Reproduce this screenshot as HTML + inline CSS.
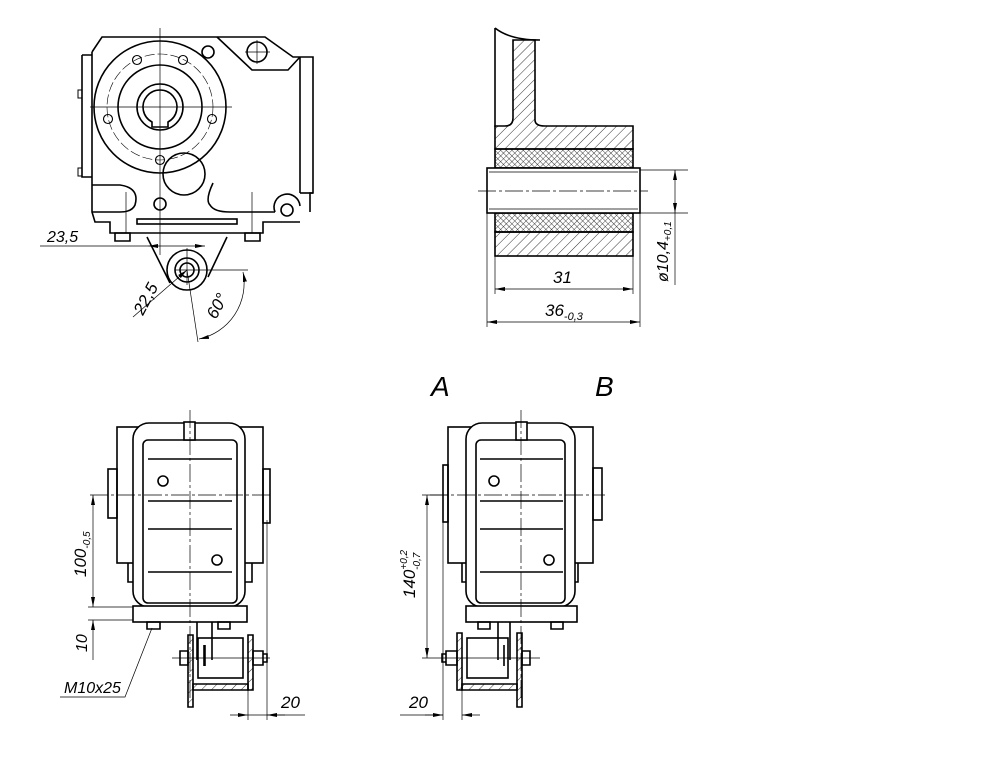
<!DOCTYPE html>
<html><head><meta charset="utf-8"><style>
html,body{margin:0;padding:0;background:#fff;}
svg{display:block}
text{font-family:"Liberation Sans",sans-serif;font-style:italic;fill:#000}
</style></head><body>
<svg width="990" height="784" viewBox="0 0 990 784" xmlns="http://www.w3.org/2000/svg">
<defs>
<pattern id="h" patternUnits="userSpaceOnUse" width="7" height="7" patternTransform="rotate(45)"><line x1="0" y1="0" x2="0" y2="7" stroke="#000" stroke-width="0.8"/></pattern>
<pattern id="x" patternUnits="userSpaceOnUse" width="4" height="4" patternTransform="rotate(45)"><path d="M0 0V4M0 0H4" stroke="#000" stroke-width="0.7"/></pattern>
<marker id="a" markerWidth="10" markerHeight="6" refX="10" refY="3" orient="auto" markerUnits="userSpaceOnUse"><path d="M0 1L10 3L0 5Z" fill="#000"/></marker>
<marker id="b" markerWidth="10" markerHeight="6" refX="0" refY="3" orient="auto" markerUnits="userSpaceOnUse"><path d="M10 1L0 3L10 5Z" fill="#000"/></marker>
</defs>
<g fill="none" stroke="#000" stroke-width="1.6">
<!-- TOP LEFT VIEW -->
<path d="M92 52L102 37H265L293 57H313V193H310V212"/>
<path d="M217 37L252 70H288L300 57"/>
<line x1="300" y1="57" x2="300" y2="193"/><line x1="300" y1="193" x2="313" y2="193"/>
<path d="M92 52V212L95 222H110V233H263V222H300"/>
<path d="M82 55H92M82 55V177H92"/><path d="M78 90h4v8h-4zM78 168h4v8h-4z" stroke-width="1"/>
<path d="M92 185H120Q140 188 135 205Q132 212 120 212H92"/>
<path d="M213 183Q205 200 210 205Q214 212 230 212H275"/>
<rect x="137" y="219" width="100" height="5"/>
<path d="M115 233h15v8h-15zM245 233h15v8h-15z"/>
<circle cx="287" cy="210" r="6"/><path d="M275 212A13 13 0 1 1 300 206"/>
<circle cx="160" cy="107" r="66"/>
<circle cx="160" cy="107" r="42"/><circle cx="160" cy="107" r="23"/>
<path d="M152 122A17 17 0 1 1 168 122V127H152Z"/>
<circle cx="160" cy="107" r="53" stroke-width="0.6" stroke-dasharray="10 3"/>
<g stroke-width="1.1"><circle cx="137" cy="60" r="4.5"/><circle cx="183" cy="60" r="4.5"/><circle cx="108" cy="119" r="4.5"/><circle cx="212" cy="119" r="4.5"/><circle cx="160" cy="160" r="4.5"/></g>
<circle cx="184" cy="174" r="21"/><circle cx="208" cy="52" r="6"/><circle cx="257" cy="52" r="10"/><circle cx="160" cy="204" r="6"/>
<path d="M147 237L170 283M227 237L208 277"/>
<circle cx="187" cy="270" r="20"/><circle cx="187" cy="270" r="12"/><circle cx="187" cy="270" r="7"/>
<g stroke-width="0.7">
<line x1="160" y1="28" x2="160" y2="255"/><line x1="90" y1="107" x2="232" y2="107"/>
<line x1="245" y1="52" x2="270" y2="52"/><line x1="257" y1="40" x2="257" y2="64"/>
<line x1="126" y1="192" x2="126" y2="233"/><line x1="252" y1="192" x2="252" y2="233"/>
<line x1="187" y1="248" x2="187" y2="285"/><line x1="175" y1="270" x2="248" y2="270"/>
<line x1="40" y1="246" x2="148" y2="246"/><line x1="148" y1="246" x2="205" y2="246" marker-start="url(#b)" marker-end="url(#a)"/>
<line x1="133" y1="317" x2="187" y2="270" marker-end="url(#a)"/>
<line x1="187" y1="270" x2="198" y2="342"/>
<path d="M243 272A57 57 0 0 1 199 339" marker-start="url(#b)" marker-end="url(#a)"/>
</g>
<!-- TOP RIGHT SECTION -->
<path d="M495 28V127"/>
<path d="M495 28Q510 40 540 40"/>
<path d="M513 40H535V120Q535 126 545 126H633V149H495V126H505Q513 126 513 118Z" fill="url(#h)"/>
<rect x="495" y="149" width="138" height="19" fill="url(#x)"/>
<rect x="495" y="213" width="138" height="19" fill="url(#x)"/>
<rect x="495" y="232" width="138" height="24" fill="url(#h)"/>
<rect x="487" y="168" width="153" height="45" fill="#fff"/>
<line x1="489" y1="172" x2="638" y2="172" stroke-width="0.8"/><line x1="489" y1="209" x2="638" y2="209" stroke-width="0.8"/>
<g stroke-width="0.7">
<line x1="478" y1="191" x2="648" y2="191" stroke-dasharray="18 3 3 3"/>
<line x1="640" y1="170" x2="688" y2="170"/><line x1="640" y1="213" x2="688" y2="213"/>
<line x1="675" y1="170" x2="675" y2="213" marker-start="url(#b)" marker-end="url(#a)"/>
<line x1="675" y1="213" x2="675" y2="285"/>
<line x1="495" y1="256" x2="495" y2="294"/><line x1="633" y1="256" x2="633" y2="294"/>
<line x1="487" y1="213" x2="487" y2="327"/><line x1="640" y1="213" x2="640" y2="327"/>
<line x1="495" y1="289" x2="633" y2="289" marker-start="url(#b)" marker-end="url(#a)"/>
<line x1="487" y1="322" x2="640" y2="322" marker-start="url(#b)" marker-end="url(#a)"/>
</g>
<!-- BOTTOM LEFT -->
<rect x="117" y="427" width="146" height="136"/>
<rect x="133" y="423" width="112" height="184" rx="16" fill="#fff"/>
<rect x="143" y="440" width="94" height="163" rx="5"/>
<rect x="184" y="422" width="11" height="18" fill="#fff"/>
<path d="M148 459H232M148 501H232M148 529H232M148 572H232"/>
<circle cx="163" cy="481" r="5"/><circle cx="217" cy="560" r="5"/>
<rect x="108" y="469" width="9" height="49"/><rect x="263" y="469" width="7" height="54"/>
<path d="M128 563V582H133M252 563V582H245"/>
<rect x="133" y="606" width="114" height="16" fill="#fff"/>
<path d="M147 622h13v7h-13zM218 622h12v7h-12z"/>
<path d="M197 622V660M212 622V660M204 645V666M205 645V666"/>
<rect x="198" y="638" width="45" height="40"/>
<path d="M188 635h5v72h-5z" fill="url(#h)"/><path d="M248 635h5v55h-5z" fill="url(#h)"/>
<path d="M193 684h55v6h-55z" fill="url(#h)"/>
<path d="M180 651h8v14h-8zM253 651h10v14h-10zM263 654h4v8h-4z"/>
<g stroke-width="0.7">
<line x1="190" y1="410" x2="190" y2="700" stroke-dasharray="18 3 3 3"/>
<line x1="90" y1="495" x2="273" y2="495" stroke-dasharray="18 3 3 3"/>
<line x1="93" y1="495" x2="93" y2="607" marker-start="url(#b)" marker-end="url(#a)"/>
<line x1="88" y1="607" x2="133" y2="607"/><line x1="88" y1="620" x2="133" y2="620"/>
<line x1="93" y1="620" x2="93" y2="660" marker-start="url(#b)"/>
<path d="M152 628L125 697H60"/>
<line x1="172" y1="658" x2="270" y2="658"/>
<line x1="248" y1="690" x2="248" y2="720"/><line x1="267" y1="520" x2="267" y2="720"/>
<line x1="230" y1="715" x2="248" y2="715" marker-end="url(#a)"/><line x1="285" y1="715" x2="267" y2="715" marker-end="url(#a)"/><line x1="248" y1="715" x2="305" y2="715"/>
</g>
<!-- BOTTOM RIGHT -->
<rect x="448" y="427" width="145" height="136"/>
<rect x="466" y="423" width="109" height="184" rx="16" fill="#fff"/>
<rect x="476" y="440" width="89" height="163" rx="5"/>
<rect x="516" y="422" width="11" height="18" fill="#fff"/>
<path d="M480 459H563M480 501H563M480 529H563M480 572H563"/>
<circle cx="494" cy="481" r="5"/><circle cx="549" cy="560" r="5"/>
<rect x="443" y="465" width="5" height="57"/><rect x="593" y="468" width="9" height="52"/>
<path d="M462 563V582H466M578 563V582H575"/>
<rect x="466" y="606" width="111" height="16" fill="#fff"/>
<path d="M478 622h12v7h-12zM551 622h12v7h-12z"/>
<path d="M498 622V660M510 622V660M504 645V666"/>
<rect x="467" y="638" width="41" height="40"/>
<path d="M457 633h5v57h-5z" fill="url(#h)"/><path d="M517 633h5v74h-5z" fill="url(#h)"/>
<path d="M462 684h55v6h-55z" fill="url(#h)"/>
<path d="M446 651h11v14h-11zM442 654h4v8h-4zM522 651h8v14h-8z"/>
<g stroke-width="0.7">
<line x1="521" y1="410" x2="521" y2="700" stroke-dasharray="18 3 3 3"/>
<line x1="430" y1="495" x2="605" y2="495" stroke-dasharray="18 3 3 3"/>
<line x1="427" y1="495" x2="427" y2="658" marker-start="url(#b)" marker-end="url(#a)"/>
<line x1="422" y1="495" x2="448" y2="495"/>
<line x1="422" y1="658" x2="540" y2="658"/>
<line x1="443" y1="522" x2="443" y2="720"/><line x1="462" y1="690" x2="462" y2="720"/>
<line x1="400" y1="715" x2="443" y2="715"/><line x1="425" y1="715" x2="443" y2="715" marker-end="url(#a)"/><line x1="480" y1="715" x2="462" y2="715" marker-end="url(#a)"/>
</g>
</g>
<!-- TEXT -->
<text x="47" y="242" font-size="16">23,5</text>
<text transform="translate(143,316) rotate(-62)" font-size="17">22,5</text>
<text transform="translate(216,320) rotate(-62)" font-size="17">60°</text>
<text x="553" y="283" font-size="17">31</text>
<text x="545" y="316" font-size="17">36<tspan font-size="11" dy="4">-0,3</tspan></text>
<text transform="translate(668,282) rotate(-90)" font-size="16">ø10,4<tspan font-size="10" dy="3">+0,1</tspan></text>
<text x="431" y="396" font-size="28">A</text>
<text x="595" y="396" font-size="28">B</text>
<text transform="translate(86,577) rotate(-90)" font-size="17">100<tspan font-size="10" dy="4">-0,5</tspan></text>
<text transform="translate(87,652) rotate(-90)" font-size="16">10</text>
<text x="64" y="693" font-size="16">M10x25</text>
<text x="281" y="708" font-size="17">20</text>
<text x="409" y="708" font-size="17">20</text>
<text transform="translate(415,598) rotate(-90)" font-size="17">140<tspan font-size="10" dy="-8">+0,2</tspan><tspan font-size="10" dx="-20" dy="13">-0,7</tspan></text>
</svg>
</body></html>
